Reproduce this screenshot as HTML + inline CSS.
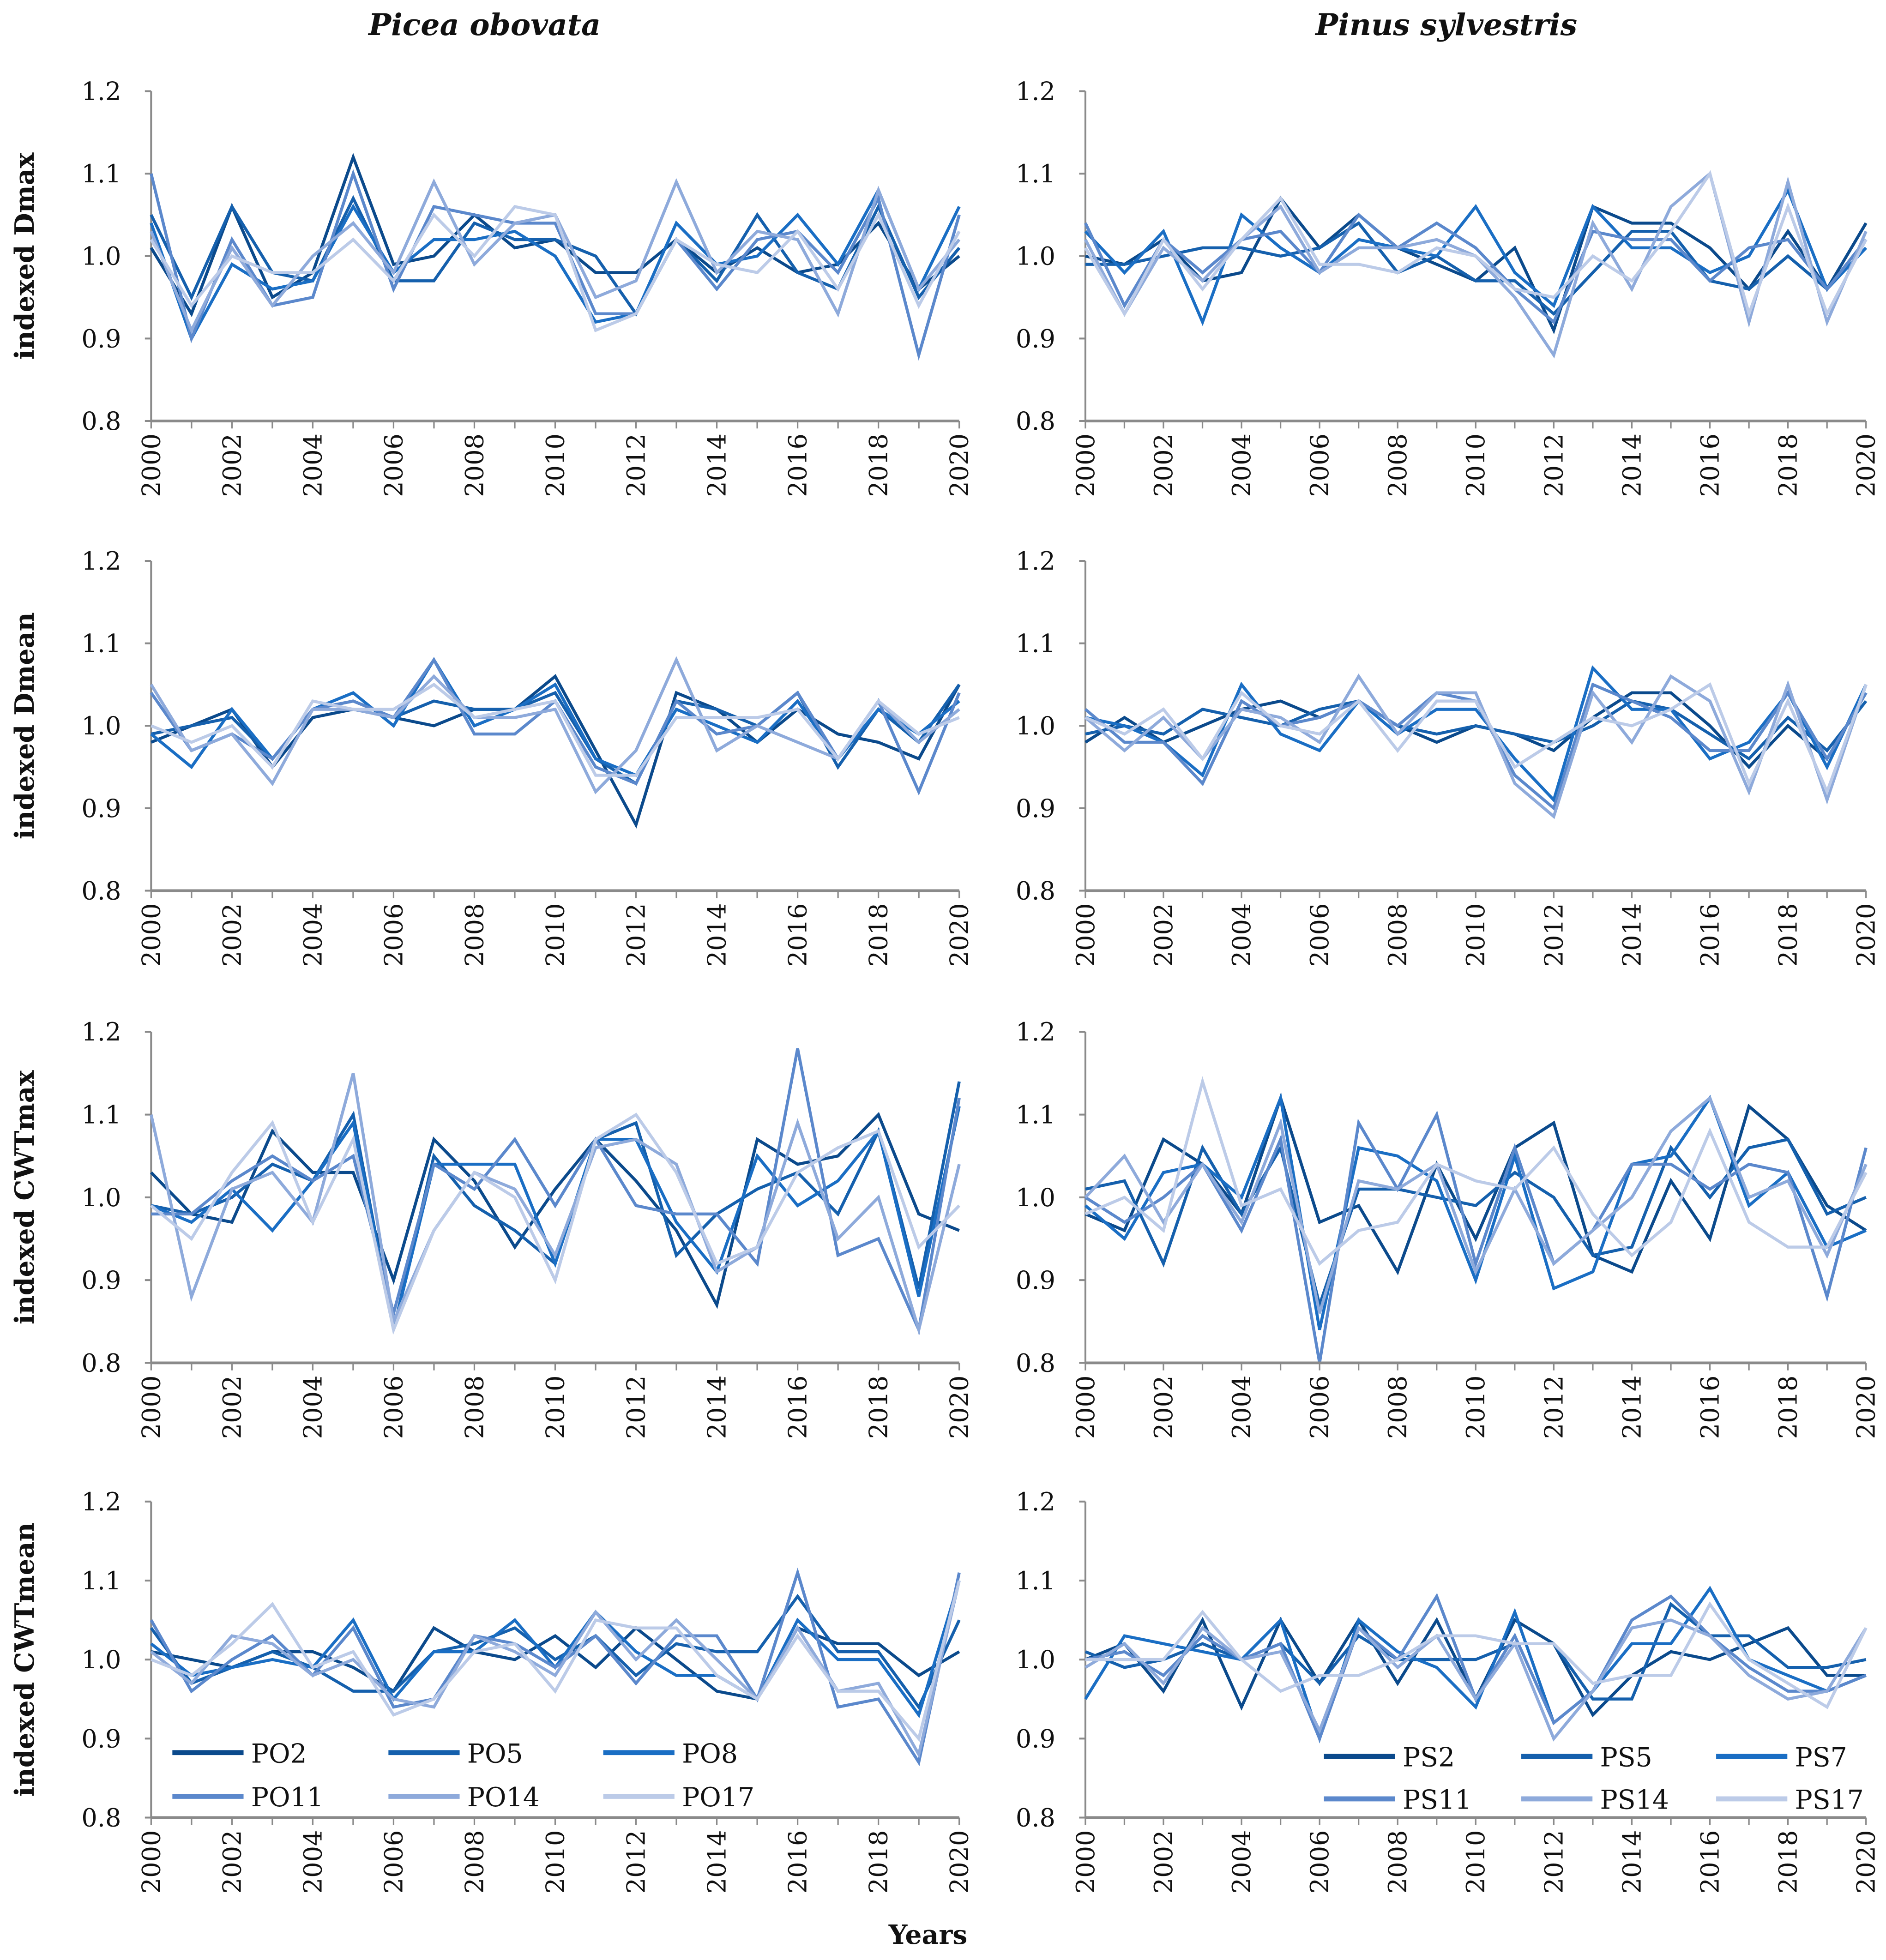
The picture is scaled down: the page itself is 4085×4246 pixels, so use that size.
<!DOCTYPE html>
<html><head><meta charset="utf-8"><style>
html,body{margin:0;padding:0;background:#fff}
svg{display:block}
text{font-family:"DejaVu Serif","Liberation Serif",serif;fill:#111}
</style></head><body>
<svg id="chart" width="4085" height="4246" viewBox="0 0 1510 1569" preserveAspectRatio="none" xmlns="http://www.w3.org/2000/svg">
<text x="388" y="28" font-size="24" font-weight="bold" font-style="italic" text-anchor="middle">Picea obovata</text>
<text x="1158" y="28" font-size="24" font-weight="bold" font-style="italic" text-anchor="middle">Pinus sylvestris</text>
<text x="743" y="1556" font-size="21" font-weight="bold" text-anchor="middle">Years</text>
<g id="plots"></g>
</svg>
<script>
const years = [2000,2001,2002,2003,2004,2005,2006,2007,2008,2009,2010,2011,2012,2013,2014,2015,2016,2017,2018,2019,2020];
const yTicks = [0.8,0.9,1.0,1.1,1.2];
const yTickLabels = ["0.8","0.9","1.0","1.1","1.2"];
const xTickLabels = ["2000","2002","2004","2006","2008","2010","2012","2014","2016","2018","2020"];
const poNames = ["PO2","PO5","PO8","PO11","PO14","PO17"];
const psNames = ["PS2","PS5","PS7","PS11","PS14","PS17"];
const rowTitles = ["indexed Dmax","indexed Dmean","indexed CWTmax","indexed CWTmean"];

const poDmax = [
[1.01,0.93,1.06,0.95,0.98,1.12,0.99,1.00,1.05,1.01,1.02,0.98,0.98,1.02,0.98,1.01,0.98,0.99,1.04,0.96,1.00],
[1.05,0.95,1.06,0.98,0.97,1.07,0.97,0.97,1.04,1.02,1.02,1.00,0.93,1.02,0.97,1.05,0.98,0.96,1.06,0.95,1.01],
[1.04,0.90,0.99,0.96,0.97,1.06,0.98,1.02,1.02,1.03,1.00,0.92,0.93,1.04,0.99,1.00,1.05,0.99,1.08,0.96,1.06],
[1.10,0.90,1.02,0.94,0.95,1.10,0.96,1.06,1.05,1.04,1.04,0.93,0.93,1.02,0.96,1.02,1.03,0.98,1.07,0.88,1.05],
[1.03,0.91,1.01,0.94,1.00,1.04,0.98,1.09,0.99,1.04,1.05,0.95,0.97,1.09,0.98,1.03,1.02,0.93,1.08,0.96,1.02],
[1.02,0.94,1.00,0.98,0.98,1.02,0.97,1.05,1.00,1.06,1.05,0.91,0.93,1.02,0.99,0.98,1.03,0.96,1.05,0.94,1.03]];
const psDmax = [
[1.00,0.99,1.02,0.97,0.98,1.07,1.01,1.05,1.01,0.99,0.97,1.01,0.91,1.06,1.04,1.04,1.01,0.96,1.03,0.96,1.04],
[0.99,0.99,1.00,1.01,1.01,1.00,1.01,1.04,0.98,1.00,0.97,0.97,0.93,0.98,1.03,1.03,0.97,0.96,1.00,0.96,1.02],
[1.03,0.98,1.03,0.92,1.05,1.01,0.98,1.02,1.01,1.00,1.06,0.98,0.94,1.06,1.01,1.01,0.98,1.00,1.08,0.96,1.01],
[1.04,0.94,1.02,0.98,1.02,1.03,0.98,1.05,1.01,1.04,1.01,0.96,0.92,1.03,1.02,1.02,0.97,1.01,1.02,0.96,1.02],
[1.02,0.93,1.01,0.97,1.02,1.06,0.98,1.01,1.01,1.02,1.00,0.95,0.88,1.04,0.96,1.06,1.10,0.92,1.09,0.92,1.03],
[1.01,0.93,1.02,0.96,1.02,1.07,0.99,0.99,0.98,1.01,1.00,0.96,0.95,1.00,0.97,1.03,1.10,0.93,1.06,0.93,1.02]];
const poDmean = [
[0.98,1.00,1.02,0.95,1.01,1.02,1.01,1.00,1.02,1.02,1.06,0.97,0.88,1.04,1.02,0.98,1.02,0.99,0.98,0.96,1.05],
[0.99,1.00,1.01,0.96,1.02,1.03,1.01,1.03,1.02,1.02,1.04,0.96,0.93,1.03,1.02,1.00,1.04,0.95,1.02,0.98,1.05],
[0.99,0.95,1.02,0.96,1.02,1.04,1.00,1.08,1.00,1.02,1.05,0.96,0.94,1.02,1.00,0.98,1.03,0.96,1.02,0.99,1.03],
[1.04,0.97,0.99,0.96,1.02,1.03,1.01,1.08,0.99,0.99,1.03,0.95,0.93,1.03,0.99,1.00,1.04,0.96,1.03,0.92,1.04],
[1.05,0.97,0.99,0.93,1.02,1.02,1.01,1.06,1.01,1.01,1.02,0.92,0.97,1.08,0.97,1.00,0.98,0.96,1.03,0.98,1.02],
[1.00,0.98,1.00,0.95,1.03,1.02,1.02,1.05,1.01,1.02,1.03,0.94,0.94,1.01,1.01,1.01,1.02,0.96,1.03,0.99,1.01]];
const psDmean = [
[0.98,1.01,0.98,1.00,1.02,1.03,1.01,1.03,1.00,0.98,1.00,0.99,0.97,1.01,1.04,1.04,1.00,0.95,1.00,0.96,1.04],
[0.99,1.00,0.99,1.02,1.01,1.00,1.02,1.03,1.00,0.99,1.00,0.99,0.98,1.00,1.03,1.02,0.99,0.96,1.01,0.97,1.03],
[1.01,1.00,0.98,0.94,1.05,0.99,0.97,1.03,0.99,1.02,1.02,0.96,0.91,1.07,1.02,1.02,0.96,0.98,1.04,0.95,1.05],
[1.02,0.98,0.98,0.93,1.03,1.00,1.01,1.03,1.00,1.04,1.03,0.94,0.90,1.05,1.03,1.01,0.97,0.97,1.04,0.96,1.04],
[1.01,0.97,1.01,0.96,1.02,1.01,0.98,1.06,0.99,1.04,1.04,0.93,0.89,1.04,0.98,1.06,1.03,0.92,1.05,0.91,1.05],
[1.01,0.99,1.02,0.96,1.04,1.00,0.99,1.03,0.97,1.03,1.03,0.95,0.98,1.01,1.00,1.02,1.05,0.93,1.03,0.92,1.05]];
const poCWTmax = [
[1.03,0.98,0.97,1.08,1.03,1.03,0.90,1.07,1.02,0.94,1.01,1.07,1.02,0.96,0.87,1.07,1.04,1.05,1.10,0.98,0.96],
[0.99,0.98,1.00,1.04,1.02,1.10,0.84,1.05,0.99,0.96,0.92,1.07,1.09,0.93,0.98,1.01,1.03,0.98,1.08,0.89,1.14],
[0.99,0.97,1.01,0.96,1.02,1.09,0.84,1.04,1.04,1.04,0.92,1.07,1.07,0.97,0.91,1.05,0.99,1.02,1.08,0.88,1.11],
[0.98,0.98,1.02,1.05,1.02,1.05,0.86,1.04,1.01,1.07,0.99,1.07,0.99,0.98,0.98,0.92,1.18,0.93,0.95,0.84,1.12],
[1.10,0.88,1.01,1.03,0.97,1.15,0.85,0.96,1.03,1.01,0.93,1.06,1.07,1.04,0.91,0.94,1.09,0.95,1.00,0.84,1.04],
[0.99,0.95,1.03,1.09,0.97,1.07,0.84,0.96,1.03,1.00,0.90,1.07,1.10,1.03,0.92,0.94,1.03,1.06,1.08,0.94,0.99]];
const psCWTmax = [
[0.98,0.96,1.07,1.04,0.98,1.12,0.97,0.99,0.91,1.04,0.95,1.06,1.09,0.93,0.91,1.02,0.95,1.11,1.07,0.99,0.96],
[1.01,1.02,0.92,1.06,0.98,1.06,0.87,1.01,1.01,1.00,0.99,1.03,1.00,0.93,0.94,1.06,1.00,1.06,1.07,0.98,1.00],
[0.99,0.95,1.03,1.04,1.00,1.12,0.84,1.06,1.05,1.02,0.90,1.05,0.89,0.91,1.04,1.05,1.12,0.99,1.03,0.94,0.96],
[1.00,0.97,1.00,1.04,0.96,1.07,0.80,1.09,1.01,1.10,0.92,1.06,0.92,0.96,1.04,1.04,1.01,1.04,1.03,0.88,1.06],
[1.00,1.05,0.97,1.04,0.97,1.09,0.86,1.02,1.01,1.04,0.91,1.01,0.92,0.96,1.00,1.08,1.12,1.00,1.02,0.93,1.04],
[0.98,1.00,0.96,1.14,0.99,1.01,0.92,0.96,0.97,1.04,1.02,1.01,1.06,0.98,0.93,0.97,1.08,0.97,0.94,0.94,1.03]];
const poCWTmean = [
[1.01,1.00,0.99,1.01,1.01,0.99,0.96,1.04,1.01,1.00,1.03,0.99,1.04,1.00,0.96,0.95,1.04,1.02,1.02,0.98,1.01],
[1.04,0.97,0.99,1.01,0.99,0.96,0.96,1.01,1.02,1.04,1.00,1.03,0.98,1.02,1.01,1.01,1.08,1.01,1.01,0.94,1.05],
[1.02,0.98,0.99,1.00,0.99,1.05,0.95,1.01,1.01,1.05,0.99,1.06,1.01,0.98,0.98,0.95,1.05,1.00,1.00,0.93,1.10],
[1.05,0.96,1.00,1.03,0.98,1.04,0.94,0.95,1.03,1.02,0.99,1.03,0.97,1.03,1.03,0.95,1.11,0.94,0.95,0.87,1.11],
[1.01,0.97,1.03,1.02,0.98,1.00,0.95,0.94,1.03,1.01,0.98,1.06,1.00,1.05,1.00,0.95,1.04,0.96,0.97,0.88,1.10],
[1.00,0.98,1.02,1.07,0.99,1.01,0.93,0.95,1.01,1.02,0.96,1.05,1.04,1.04,0.98,0.95,1.03,0.96,0.96,0.90,1.10]];
const psCWTmean = [
[1.00,1.02,0.96,1.05,0.94,1.05,0.97,1.05,0.97,1.05,0.95,1.05,1.02,0.93,0.98,1.01,1.00,1.02,1.04,0.98,0.98],
[1.01,0.99,1.00,1.02,1.00,1.02,0.97,1.03,1.00,1.00,1.00,1.02,1.02,0.95,0.95,1.07,1.03,1.03,0.99,0.99,1.00],
[0.95,1.03,1.02,1.01,1.00,1.05,0.90,1.05,1.01,0.99,0.94,1.06,0.92,0.96,1.02,1.02,1.09,1.00,0.98,0.96,0.98],
[1.00,1.01,0.98,1.03,1.00,1.02,0.90,1.04,1.00,1.08,0.95,1.03,0.92,0.96,1.05,1.08,1.03,0.99,0.96,0.96,0.98],
[0.99,1.02,0.97,1.04,1.00,1.01,0.91,1.04,0.99,1.03,0.95,1.02,0.90,0.96,1.04,1.05,1.03,0.98,0.95,0.96,1.04],
[1.00,1.00,1.00,1.06,1.00,0.96,0.98,0.98,1.00,1.03,1.03,1.02,1.02,0.97,0.98,0.98,1.07,1.00,0.97,0.94,1.04]];

const colors = ["#0b4a8c","#1560ad","#1a6ec4","#5b88cc","#8eaadb","#bccbe8"];
const NS = "http://www.w3.org/2000/svg";
const root = document.getElementById("plots");
function mk(tag, attrs, parent){const e=document.createElementNS(NS,tag);for(const k in attrs)e.setAttribute(k,attrs[k]);parent.appendChild(e);return e;}

const rows = [[73,337],[449,713],[826,1091],[1202,1455]];
const cols = [[121,768],[869,1494]];
const panels = [[poDmax,psDmax],[poDmean,psDmean],[poCWTmax,psCWTmax],[poCWTmean,psCWTmean]];

rows.forEach((r,ri)=>{
  const rt = mk("text",{x:0,y:0,"font-size":21,"font-weight":"bold","text-anchor":"middle",transform:`translate(27,${(r[0]+r[1])/2}) rotate(-90)`},root);
  
  
  rt.textContent = rowTitles[ri];
  cols.forEach((c,ci)=>{
    const g = mk("g",{},root);
    
    
    const xS = y => c[0]+(y-years[0])/(years[years.length-1]-years[0])*(c[1]-c[0]);
    const yS = v => r[1]-(v-0.8)/0.4*(r[1]-r[0]);
    mk("line",{x1:c[0],y1:r[0],x2:c[0],y2:r[1],stroke:"#8a8a8a","stroke-width":1.5},g);
    yTicks.forEach((t,i)=>{
      mk("line",{x1:c[0]-5,y1:yS(t),x2:c[0],y2:yS(t),stroke:"#8a8a8a","stroke-width":1.5},g);
      const tx = mk("text",{x:c[0]-24,y:yS(t)+7,"font-size":20,"text-anchor":"end"},g);
      
      
      tx.textContent = yTickLabels[i];
    });
    const data = panels[ri][ci];
    const names = ci?psNames:poNames;
    data.forEach((s,si)=>{
      const d = s.map((v,i)=>(i?"L":"M")+xS(years[i]).toFixed(1)+","+yS(v).toFixed(1)).join("");
      const p = mk("path",{d:d,fill:"none",stroke:colors[si],"stroke-width":2.4,"stroke-linejoin":"miter"},g);
      
      
    });
    mk("line",{x1:c[0],y1:r[1],x2:c[1],y2:r[1],stroke:"#8a8a8a","stroke-width":2.2},g);
    years.forEach(y=>{
      mk("line",{x1:xS(y),y1:r[1],x2:xS(y),y2:r[1]+6,stroke:"#8a8a8a","stroke-width":1.2},g);
    });
    xTickLabels.forEach(l=>{
      const x = xS(+l);
      const tx = mk("text",{x:0,y:0,"font-size":20,"text-anchor":"end",transform:`translate(${x+7},${r[1]+10}) rotate(-90)`},g);
      
      
      tx.textContent = l;
    });
  });
});

function legend(names, xs, ys, prefix){
  const g = mk("g",{},root);
  
  
  names.forEach((n,i)=>{
    const x = xs[i%3], y = ys[Math.floor(i/3)];
    mk("line",{x1:x,y1:y,x2:x+57,y2:y,stroke:colors[i],"stroke-width":4},g);
    const t = mk("text",{x:x+63,y:y+8,"font-size":21},g);
    
    
    t.textContent = n;
  });
}
legend(poNames,[138,311,483],[1403,1438],'picea');
legend(psNames,[1060,1218,1374],[1406,1440],'pinus');
</script>
</body></html>
